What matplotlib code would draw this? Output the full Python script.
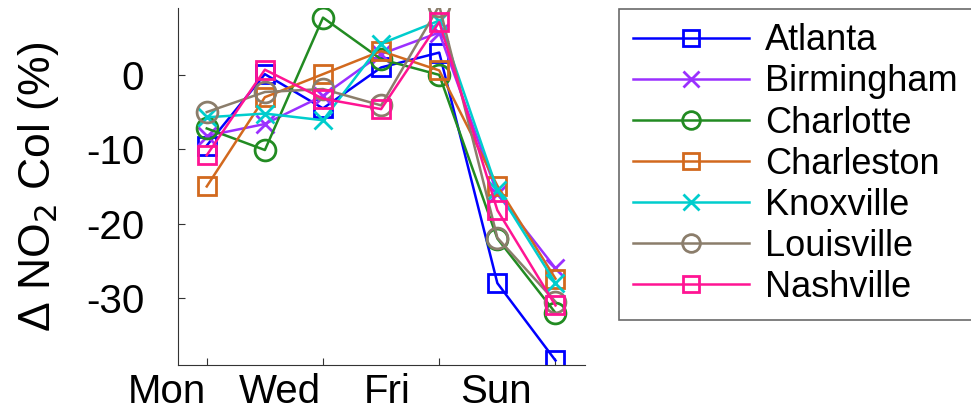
import matplotlib.pyplot as plt
import matplotlib.transforms as mtransforms

plt.rcParams['font.family'] = ['Liberation Sans', 'DejaVu Sans']
plt.rcParams['axes.unicode_minus'] = False

days = [1, 2, 3, 4, 5, 6, 7]
tick_pos = [1, 3, 5, 7]
tick_labels = ['Mon', 'Wed', 'Fri', 'Sun']

atlanta = [-9.5, 0.1, -4.5, 1.0, 3.0, -28.0, -38.4]
birmingham = [-8.2, -6.6, -2.8, 2.8, 5.7, -16.0, -26.0]
charlotte = [-7.2, -10.1, 7.7, 2.1, 0.0, -22.0, -32.0]
charleston = [-15.0, -3.0, 0.1, 3.2, 0.6, -14.9, -27.4]
knoxville = [-5.7, -5.2, -6.1, 4.2, 7.3, -15.5, -28.0]
louisville = [-5.0, -2.3, -1.9, -4.1, 9.3, -21.9, -30.5]
nashville = [-10.8, 0.7, -3.2, -4.6, 7.1, -18.2, -31.0]

series = [
    ('Atlanta', atlanta, '#0000ff', 's'),
    ('Birmingham', birmingham, '#9b30ff', 'x'),
    ('Charlotte', charlotte, '#228b22', 'o'),
    ('Charleston', charleston, '#d2691e', 's'),
    ('Knoxville', knoxville, '#00cdcd', 'x'),
    ('Louisville', louisville, '#8b7d6b', 'o'),
    ('Nashville', nashville, '#ff1493', 's'),
]

fig = plt.figure(figsize=(9.71, 4.19), dpi=100)
ax = fig.add_axes([0.183, 0.129, 0.419, 0.852])

for name, vals, col, mk in series:
    ms = 15 if mk == 'o' else 13
    ax.plot(days, vals, color=col, marker=mk, markersize=ms, markerfacecolor='none',
            markeredgecolor=col, markeredgewidth=2.0, linewidth=1.8, label=name)

ax.set_xlim(0.5, 7.5)
ax.set_ylim(-39, 9)
ax.set_yticks([0, -10, -20, -30])
ax.set_xticks(tick_pos)
ax.set_xticklabels(tick_labels)
ax.tick_params(direction='in', length=5, color='#333333')
ax.tick_params(axis='x', labelsize=29, pad=6)
ax.tick_params(axis='y', labelsize=29, pad=24)

# the day labels sit left of their ticks in the original
label_shift_px = [-40, -43, -52, -59]
for lab, dx in zip(ax.get_xticklabels(), label_shift_px):
    shift = mtransforms.ScaledTranslation(dx / 100, 0, fig.dpi_scale_trans)
    lab.set_transform(lab.get_transform() + shift)

ax.spines['top'].set_visible(False)
ax.spines['right'].set_visible(False)
ax.spines['left'].set_color('#333333')
ax.spines['bottom'].set_color('#333333')
ax.set_ylabel('Δ NO$_2$ Col (%)', fontsize=32, labelpad=18)

leg = fig.legend(loc='upper left', bbox_to_anchor=(0.637, 0.979), borderaxespad=0,
                 fontsize=26, frameon=True, fancybox=False, edgecolor='#444444',
                 handlelength=3.2, handletextpad=0.45, labelspacing=0.17,
                 borderpad=0.4, markerscale=0.85)
leg.get_frame().set_linewidth(1.2)

fig.savefig('out.png', dpi=100)
